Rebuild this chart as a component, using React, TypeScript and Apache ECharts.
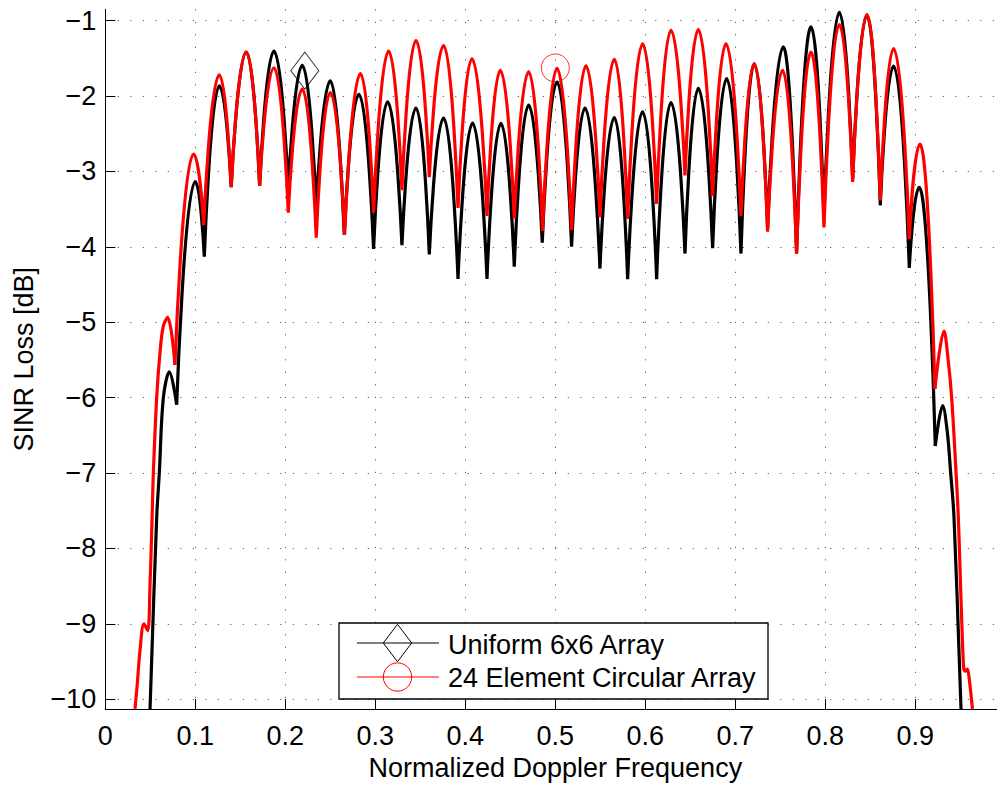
import React, { useEffect, useRef } from 'react';
import * as echarts from 'echarts';

// ---- axis ticks ----
const yTickValues = [-10, -9, -8, -7, -6, -5, -4, -3, -2, -1];

// ---- Uniform 6x6 Array (black) ----
// rising edge on the left, ends where the scalloped lobes begin
const uniformLeftX = [0.0497, 0.0571, 0.06, 0.0645, 0.0711];
const uniformLeftY = [-10.13, -7.59, -7.0, -6.0, -5.66];
// alternating null / peak / null ... of the scalloped part
const uniformKeyX = [
  0.0793, 0.1, 0.11, 0.1267, 0.1399, 0.1567, 0.1715, 0.1874, 0.2033, 0.2189,
  0.2344, 0.25, 0.2655, 0.2818, 0.2981, 0.3137, 0.3296, 0.3452, 0.36, 0.3759,
  0.3919, 0.4081, 0.4241, 0.4396, 0.4544, 0.4704, 0.4855, 0.5019, 0.5181, 0.533,
  0.5496, 0.5656, 0.5804, 0.597, 0.6126, 0.6285, 0.6441, 0.6589, 0.6748, 0.6904,
  0.7063, 0.7211, 0.7359, 0.7533, 0.7681, 0.7841, 0.7985, 0.8156, 0.8304, 0.8463,
  0.8611, 0.8759, 0.8933, 0.9044, 0.9222,
];
const uniformKeyY = [
  -6.094, -3.134, -4.13, -1.867, -3.21, -1.418, -3.19, -1.405, -3.23, -1.594,
  -3.49, -1.8, -3.84, -1.977, -4.03, -2.078, -3.98, -2.16, -4.1, -2.293,
  -4.427, -2.36, -4.427, -2.364, -4.264, -2.122, -3.945, -1.814, -4.0, -2.16,
  -4.29, -2.286, -4.43, -2.21, -4.43, -2.087, -4.09, -1.9, -4.02, -1.77,
  -4.09, -1.572, -3.75, -1.348, -4.09, -1.084, -3.6, -0.89, -3.1, -0.93,
  -3.45, -1.603, -4.28, -3.21, -6.643,
];
// falling edge on the right
const uniformRightX = [0.9304, 0.9355, 0.9393, 0.943, 0.9508];
const uniformRightY = [-6.107, -6.45, -7.0, -7.59, -10.13];

// ---- 24 Element Circular Array (red) ----
const circularLeftX = [0.033, 0.0356, 0.0386, 0.043, 0.0471, 0.0497, 0.052, 0.0534, 0.0571, 0.0608, 0.0645, 0.0693];
const circularLeftY = [-10.13, -9.79, -9.35, -9.0, -9.09, -8.48, -7.59, -7.0, -6.0, -5.4, -5.05, -4.936];
const circularKeyX = [
  0.0774, 0.0981, 0.1093, 0.1267, 0.1399, 0.1567, 0.1715, 0.1874, 0.2033, 0.2189,
  0.2344, 0.25, 0.2659, 0.2835, 0.2981, 0.3148, 0.3296, 0.3452, 0.36, 0.3759,
  0.3919, 0.4074, 0.4241, 0.4389, 0.4544, 0.4704, 0.4859, 0.5019, 0.5181, 0.5341,
  0.5496, 0.5656, 0.5804, 0.597, 0.6126, 0.6285, 0.6441, 0.6589, 0.6748, 0.6896,
  0.7063, 0.7211, 0.7359, 0.7526, 0.7681, 0.7841, 0.7985, 0.8156, 0.8304, 0.8463,
  0.8611, 0.8759, 0.8933, 0.9052, 0.9218,
];
const circularKeyY = [
  -5.566, -2.77, -3.71, -1.72, -3.21, -1.418, -3.19, -1.625, -3.547, -1.91,
  -3.88, -1.955, -3.84, -1.704, -3.547, -1.405, -3.25, -1.264, -3.077, -1.33,
  -3.486, -1.506, -3.59, -1.66, -3.626, -1.68, -3.79, -1.634, -3.78, -1.6,
  -3.61, -1.515, -3.63, -1.308, -3.43, -1.128, -3.055, -1.12, -3.33, -1.308,
  -3.59, -1.572, -3.8, -1.66, -4.09, -1.418, -3.745, -1.053, -3.14, -0.92,
  -3.385, -1.37, -3.9, -2.637, -5.883,
];
const circularRightX = [0.9319, 0.9365, 0.9404, 0.9453, 0.9478, 0.9535, 0.9555, 0.9578, 0.9598, 0.9635];
const circularRightY = [-5.117, -5.5, -6.0, -7.0, -7.59, -9.55, -9.63, -9.6, -9.72, -10.13];

// single markers drawn on the curves
const uniformMarkerX = [0.2217];
const uniformMarkerY = [-1.664];
const circularMarkerX = [0.5];
const circularMarkerY = [-1.628];

const seriesNames = ['Uniform 6x6 Array', '24 Element Circular Array'];

const FONT = "'Liberation Sans', Arial, Helvetica, sans-serif";

// each lobe (null, peak, null) is its own smoothed segment so that nulls stay sharp
function lobeData(xs: number[], ys: number[]) {
  const out: any[] = [];
  for (let i = 0; i + 2 < xs.length; i += 2) {
    out.push([xs[i], ys[i]], [xs[i + 1], ys[i + 1]], [xs[i + 2], ys[i + 2]], [xs[i + 2], '-']);
  }
  return out;
}

function edgeData(lx: number[], ly: number[], kx: number[], ky: number[], rx: number[], ry: number[]) {
  const out: any[] = lx.map((x, i) => [x, ly[i]]);
  out.push([kx[0], ky[0]]);
  out.push([kx[0], '-']);
  const n = kx.length - 1;
  out.push([kx[n], ky[n]]);
  rx.forEach((x, i) => out.push([x, ry[i]]));
  return out;
}

const minus = (v: number) => (v < 0 ? '\u2212' + String(Math.abs(v)) : String(v));

export default function App() {
  const ref = useRef<HTMLDivElement>(null);
  useEffect(() => {
    if (!ref.current) return;
    const chart = echarts.init(ref.current, undefined, { renderer: 'svg' });
    const black = '#000000';
    const red = '#ff0000';
    const lineBase = { type: 'line', showSymbol: false, symbol: 'none', animation: false, silent: true };
    chart.setOption({
      animation: false,
      backgroundColor: '#ffffff',
      grid: { left: 105.3, top: 9.3, width: 900, height: 703.4, containLabel: false },
      xAxis: {
        type: 'value',
        min: 0,
        max: 1,
        interval: 0.1,
        name: 'Normalized Doppler Frequency',
        nameLocation: 'middle',
        nameGap: 44,
        nameTextStyle: { fontSize: 27, color: '#000', fontFamily: FONT },
        axisLine: { show: true, onZero: false, lineStyle: { color: '#000', width: 1 } },
        axisTick: { show: true, inside: true, length: 10, lineStyle: { color: '#000', width: 1 } },
        axisLabel: {
          fontSize: 27, color: '#000', fontFamily: FONT, margin: 13,
          showMaxLabel: false,
          formatter: (v: number) => String(Math.round(v * 10) / 10),
        },
        splitLine: { show: true, lineStyle: { color: '#404040', width: 1, type: [1, 11.5] } },
      },
      yAxis: {
        type: 'value',
        min: -10.132,
        max: -0.85,
        splitNumber: 9,
        name: 'SINR Loss [dB]',
        nameLocation: 'middle',
        nameGap: 68,
        nameRotate: 90,
        nameTextStyle: { fontSize: 27, color: '#000', fontFamily: FONT },
        axisLine: { show: true, lineStyle: { color: '#000', width: 1 } },
        axisTick: { show: true, inside: true, length: 10, customValues: yTickValues, lineStyle: { color: '#000', width: 1 } },
        axisLabel: {
          fontSize: 27, color: '#000', fontFamily: FONT, margin: 9,
          customValues: yTickValues,
          formatter: minus,
        },
        splitLine: { show: true, lineStyle: { color: '#404040', width: 1, type: [1, 11.5] } },
      },
      series: [
        { ...lineBase, name: seriesNames[0], data: lobeData(uniformKeyX, uniformKeyY), smooth: 0.56, smoothMonotone: 'x', lineStyle: { color: black, width: 3.2 } },
        { ...lineBase, name: seriesNames[0], data: edgeData(uniformLeftX, uniformLeftY, uniformKeyX, uniformKeyY, uniformRightX, uniformRightY), smooth: 0.35, lineStyle: { color: black, width: 3.2 } },
        { ...lineBase, name: seriesNames[1], data: lobeData(circularKeyX, circularKeyY), smooth: 0.56, smoothMonotone: 'x', lineStyle: { color: red, width: 3.2 } },
        { ...lineBase, name: seriesNames[1], data: edgeData(circularLeftX, circularLeftY, circularKeyX, circularKeyY, circularRightX, circularRightY), smooth: 0.35, lineStyle: { color: red, width: 3.2 } },
        {
          type: 'scatter', name: seriesNames[0] + ' marker', silent: true,
          data: uniformMarkerX.map((x, i) => [x, uniformMarkerY[i]]),
          symbol: 'diamond', symbolSize: [28, 37],
          itemStyle: { color: 'rgba(0,0,0,0)', borderColor: black, borderWidth: 1 },
        },
        {
          type: 'scatter', name: seriesNames[1] + ' marker', silent: true,
          data: circularMarkerX.map((x, i) => [x, circularMarkerY[i]]),
          symbol: 'circle', symbolSize: 28,
          itemStyle: { color: 'rgba(0,0,0,0)', borderColor: red, borderWidth: 1 },
        },
      ],
      graphic: [
        { type: 'rect', shape: { x: 339, y: 623, width: 429, height: 76 }, style: { fill: '#fff', stroke: '#000', lineWidth: 1.3 }, z: 100 },
        { type: 'line', shape: { x1: 357, y1: 643, x2: 439, y2: 643 }, style: { stroke: black, lineWidth: 1 }, z: 101 },
        { type: 'polygon', shape: { points: [[397.5, 624.3], [411.7, 643], [397.5, 661.7], [383.3, 643]] }, style: { fill: 'none', stroke: black, lineWidth: 1 }, z: 101 },
        { type: 'text', x: 448, y: 645, style: { text: seriesNames[0], font: `27px ${FONT}`, fill: '#000', verticalAlign: 'middle', align: 'left' }, z: 101 },
        { type: 'line', shape: { x1: 357, y1: 677, x2: 439, y2: 677 }, style: { stroke: red, lineWidth: 1 }, z: 101 },
        { type: 'circle', shape: { cx: 397.5, cy: 677, r: 14.2 }, style: { fill: 'none', stroke: red, lineWidth: 1 }, z: 101 },
        { type: 'text', x: 448, y: 678, style: { text: seriesNames[1], font: `27px ${FONT}`, fill: '#000', verticalAlign: 'middle', align: 'left' }, z: 101 },
      ],
    });
    return () => chart.dispose();
  }, []);
  return (
    <div style={{ position: 'fixed', left: 0, top: 0, width: 997, height: 786, overflow: 'hidden', background: '#fff' }}>
      <div ref={ref} style={{ width: 1010, height: 786 }} />
    </div>
  );
}
